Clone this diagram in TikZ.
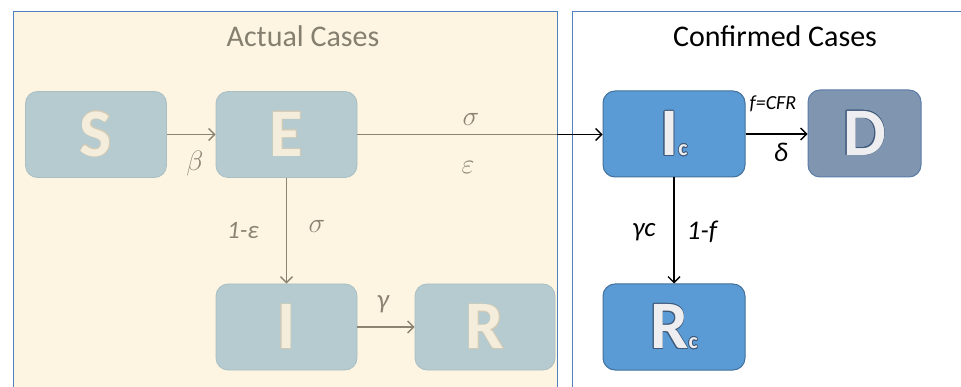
\RequirePackage{fix-cm}
\documentclass[tikz,border=0pt]{standalone}
\usepackage{fontspec}
\setmainfont{Carlito}
\usepackage{contour}
\usetikzlibrary{arrows.meta}
\definecolor{cream}{HTML}{FDF5E2}
\definecolor{panelblue}{HTML}{4F81BD}
\definecolor{boxgray}{HTML}{B6CBD0}
\definecolor{boxgrayedge}{HTML}{A9BFC4}
\definecolor{lettercream}{HTML}{F4EDDB}
\definecolor{lettercreamedge}{HTML}{D2CAB6}
\definecolor{arrowgray}{HTML}{8B8472}
\definecolor{titlegray}{HTML}{857F70}
\definecolor{boxblue}{HTML}{5B9BD5}
\definecolor{boxblueedge}{HTML}{41719C}
\definecolor{boxslate}{HTML}{8096B0}
\definecolor{boxslateedge}{HTML}{5A7CA8}
\definecolor{letterlight}{HTML}{EEEEF0}
\definecolor{letterdark}{HTML}{3F5A7A}
\newcommand{\graylet}[1]{\contourlength{0.5pt}\contour{lettercreamedge}{\textcolor{lettercream}{#1}}}
\newcommand{\bluelet}[1]{\contourlength{0.7pt}\contour{letterdark}{\textcolor{letterlight}{#1}}}
\begin{document}
\begin{tikzpicture}[x=1pt,y=-1pt,
  panel/.style={draw=panelblue, line width=0.9pt},
  box/.style={rounded corners=12pt, inner sep=0pt, minimum width=141pt, minimum height=86pt,
    font=\fontsize{68}{68}\selectfont\bfseries},
  graybox/.style={box, fill=boxgray, draw=boxgrayedge, line width=0.8pt},
  bluebox/.style={box, fill=boxblue, draw=boxblueedge, line width=1pt},
  slatebox/.style={box, fill=boxslate, draw=boxslateedge, line width=1pt},
  garrow/.style={draw=arrowgray, line width=1.4pt, -{Straight Barb[length=6pt,width=12pt]}},
  gline/.style={draw=arrowgray, line width=1.4pt},
  barrow/.style={draw=black, line width=1.4pt, -{Straight Barb[length=6pt,width=12pt]}},
  title/.style={font=\fontsize{30}{30}\selectfont, inner sep=0pt},
  glabel/.style={text=arrowgray, inner sep=0pt, font=\fontsize{28}{28}\selectfont},
  gilabel/.style={text=arrowgray, inner sep=0pt, font=\fontsize{25}{25}\selectfont\itshape},
  blabel/.style={text=black, inner sep=0pt, font=\fontsize{27}{27}\selectfont\itshape}
]
\useasboundingbox (0,0) rectangle (961,387);
\begin{scope}
  \clip (0,0) rectangle (961,387);
  \draw[panel, fill=cream] (13,11) rectangle (557,400);
  \draw[panel, fill=white] (572,11) rectangle (975,400);
\end{scope}
\node[title, text=titlegray] (t1) at (303,36) {Actual Cases};
\node[title, text=black] (t2) at (775,36) {Confirmed Cases};

\node[graybox] (S) at (96,134.5) {\graylet{S}};
\node[graybox] (E) at (286.5,134.5) {\graylet{E}};
\node[graybox] (I) at (286.5,327) {\graylet{I}};
\node[graybox, minimum width=140pt] (R) at (485,327) {\graylet{R}};
\node[bluebox, minimum width=142pt] (Ic) at (674,134) {\bluelet{I}{\fontsize{22}{22}\selectfont\bluelet{c}}};
\node[slatebox, minimum width=113pt, minimum height=87pt] (D) at (864.5,133.5) {\bluelet{D}};
\node[bluebox, minimum width=142pt] (Rc) at (674,327) {\bluelet{R}{\fontsize{22}{22}\selectfont\bluelet{c}}};

\coordinate (border) at (557,134.5);
\draw[garrow] (S) -- (E);
\draw[gline] (E.east) -- (border);
\draw[barrow] (border) -- (Ic.west |- border);
\draw[garrow] (E) -- (I);
\draw[garrow] (I) -- (R);
\draw[barrow] (Ic.east) -- (D.west |- Ic.east);
\draw[barrow] (Ic) -- (Rc);

\node[glabel] (lbeta) at (195,164) {$\beta$};
\node[glabel] (lsig1) at (471,119) {$\sigma$};
\node[glabel] (leps) at (468,167) {$\varepsilon$};
\node[glabel] (lsig2) at (317,226) {$\sigma$};
\node[gilabel] (l1eps) at (243,231) {1-ε};
\node[gilabel, font=\fontsize{27}{27}\selectfont\itshape] (lgam) at (383,304) {γ};
\node[blabel, font=\fontsize{20}{20}\selectfont\itshape] (lcfr) at (773,104) {f=CFR};
\node[blabel, font=\fontsize{27}{27}\selectfont\itshape] (ldel) at (781,152) {δ};
\node[blabel] (lgc) at (644,232) {γc};
\node[blabel] (l1f) at (702,232) {1-f};
\end{tikzpicture}
\end{document}
